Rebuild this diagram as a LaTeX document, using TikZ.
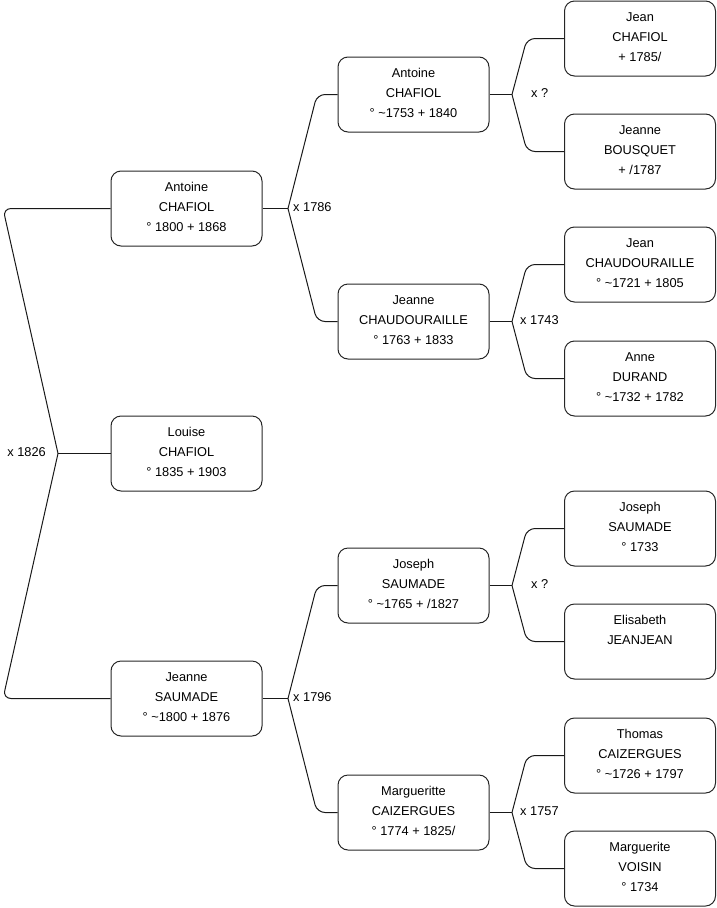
\documentclass[tikz,border=0pt]{standalone}
\usepackage{fontspec}
\setmainfont{Liberation Sans}
\usetikzlibrary{calc}
\newcommand\ptext[1]{\raisebox{0pt}[\height][\dimexpr\depth+2pt\relax]{\begin{tabular}{@{}c@{}}#1\end{tabular}}}
\begin{document}
\begin{tikzpicture}[x=1pt,y=-1pt,
  person/.style={draw=black!85, rounded corners=10pt, minimum width=151pt, minimum height=75pt,
    inner sep=0pt, font=\fontsize{12.8}{20}\selectfont, line width=1pt},
  link/.style={draw=black!90, line width=1pt, rounded corners=8pt},
  lbl/.style={font=\fontsize{12.8}{14}\selectfont, inner sep=0pt}]
\useasboundingbox (0,0) rectangle (716,908);

% level 1
\node[person] (A1) at (186.5,208.5) {\ptext{Antoine\\CHAFIOL\\° 1800 + 1868}};
\node[person] (L1) at (186.5,453.5) {\ptext{Louise\\CHAFIOL\\° 1835 + 1903}};
\node[person] (J1) at (186.5,698.5) {\ptext{Jeanne\\SAUMADE\\° \textasciitilde1800 + 1876}};
% level 2
\node[person] (A2) at (413.5,94.5) {\ptext{Antoine\\CHAFIOL\\° \textasciitilde1753 + 1840}};
\node[person] (C2) at (413.5,321.5) {\ptext{Jeanne\\CHAUDOURAILLE\\° 1763 + 1833}};
\node[person] (S2) at (413.5,585.5) {\ptext{Joseph\\SAUMADE\\° \textasciitilde1765 + /1827}};
\node[person] (M2) at (413.5,812.5) {\ptext{Margueritte\\CAIZERGUES\\° 1774 + 1825/}};
% level 3
\node[person] (P1) at (640,38.5) {\ptext{Jean\\CHAFIOL\\+ 1785/}};
\node[person] (P2) at (640,151.5) {\ptext{Jeanne\\BOUSQUET\\+ /1787}};
\node[person] (P3) at (640,264.5) {\ptext{Jean\\CHAUDOURAILLE\\° \textasciitilde1721 + 1805}};
\node[person] (P4) at (640,378.5) {\ptext{Anne\\DURAND\\° \textasciitilde1732 + 1782}};
\node[person] (P5) at (640,528.5) {\ptext{Joseph\\SAUMADE\\° 1733}};
\node[person] (P6) at (640,641.5) {\ptext{Elisabeth\\JEANJEAN\\ \strut}};
\node[person] (P7) at (640,755.5) {\ptext{Thomas\\CAIZERGUES\\° \textasciitilde1726 + 1797}};
\node[person] (P8) at (640,868.5) {\ptext{Marguerite\\VOISIN\\° 1734}};

% corner columns
\coordinate (k1) at (3,0);
\coordinate (k2) at (317,0);
\coordinate (k3) at (527,0);

% level 1 bracket
\coordinate (v1) at (58,453.5);
\draw[link] (L1.west) -- (v1);
\draw[link] (v1) -- (A1.west -| k1) -- (A1.west);
\draw[link] (v1) -- (J1.west -| k1) -- (J1.west);
\node[lbl, anchor=east] (m1) at ($(v1)+(-12,-1.5)$) {x 1826};

% level 2 brackets
\coordinate (v2) at (288,208.5);
\draw[link] (A1.east) -- (v2);
\draw[link] (v2) -- (A2.west -| k2) -- (A2.west);
\draw[link] (v2) -- (C2.west -| k2) -- (C2.west);
\node[lbl, anchor=west] (m2) at ($(v2)+(5,-1)$) {x 1786};

\coordinate (v3) at (288,698.5);
\draw[link] (J1.east) -- (v3);
\draw[link] (v3) -- (S2.west -| k2) -- (S2.west);
\draw[link] (v3) -- (M2.west -| k2) -- (M2.west);
\node[lbl, anchor=west] (m3) at ($(v3)+(5,-1)$) {x 1796};

% level 3 brackets
\coordinate (v4) at (512,94.5);
\draw[link] (A2.east) -- (v4);
\draw[link] (v4) -- (P1.west -| k3) -- (P1.west);
\draw[link] (v4) -- (P2.west -| k3) -- (P2.west);
\node[lbl, anchor=west] (m4) at ($(v4)+(19,-1.5)$) {x ?};

\coordinate (v5) at (512,321.5);
\draw[link] (C2.east) -- (v5);
\draw[link] (v5) -- (P3.west -| k3) -- (P3.west);
\draw[link] (v5) -- (P4.west -| k3) -- (P4.west);
\node[lbl, anchor=west] (m5) at ($(v5)+(8,-1.5)$) {x 1743};

\coordinate (v6) at (512,585.5);
\draw[link] (S2.east) -- (v6);
\draw[link] (v6) -- (P5.west -| k3) -- (P5.west);
\draw[link] (v6) -- (P6.west -| k3) -- (P6.west);
\node[lbl, anchor=west] (m6) at ($(v6)+(19,-1.5)$) {x ?};

\coordinate (v7) at (512,812.5);
\draw[link] (M2.east) -- (v7);
\draw[link] (v7) -- (P7.west -| k3) -- (P7.west);
\draw[link] (v7) -- (P8.west -| k3) -- (P8.west);
\node[lbl, anchor=west] (m7) at ($(v7)+(8,-1.5)$) {x 1757};
\end{tikzpicture}
\end{document}
